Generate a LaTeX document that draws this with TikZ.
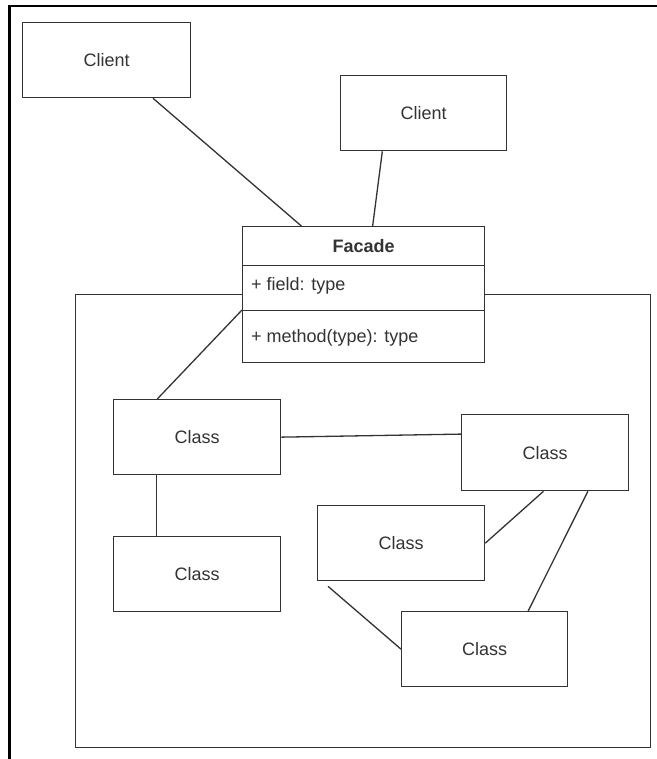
\documentclass[tikz,border=0pt]{standalone}
\usepackage{fontspec}
\setmainfont{Liberation Sans}
\usetikzlibrary{calc}
\definecolor{ink}{HTML}{333333}
\begin{document}
\begin{tikzpicture}[x=1pt,y=-1pt,
  every node/.style={font=\fontsize{18}{22}\selectfont, text=ink},
  umlbox/.style={draw=ink, line width=1.3pt, fill=white, inner sep=0pt, anchor=north west},
  link/.style={draw=ink, line width=1.3pt},
  frame/.style={draw=black, line width=2.6pt}]
\useasboundingbox (0,0) rectangle (656,759);

% window frame (top and left edges)
\draw[frame] (9.5,760) -- (9.5,6.2) -- (657,6.2);

% subsystem boundary
\node[umlbox, minimum width=575pt, minimum height=453pt] (pkg) at (75,294) {};

% clients
\node[umlbox, minimum width=168pt, minimum height=75pt] (cl1) at (22,22) {Client};
\node[umlbox, minimum width=166pt, minimum height=75pt] (cl2) at (340,75) {Client};

% facade class
\node[umlbox, minimum width=242pt, minimum height=39pt] (fhead) at (242,226) {\bfseries Facade};
\node[umlbox, minimum width=242pt, minimum height=45pt] (ffield) at (242,265) {};
\node[umlbox, minimum width=242pt, minimum height=52pt] (fmeth) at (242,310) {};
\node[anchor=west, inner sep=0pt] (ftxt) at ($(ffield.west)+(9,-2)$) {+ field: type};
\node[anchor=west, inner sep=0pt] (mtxt) at ($(fmeth.west)+(9,1)$) {+ method(type): type};

% subsystem classes
\node[umlbox, minimum width=167pt, minimum height=75pt] (k1) at (113,399) {Class};
\node[umlbox, minimum width=167pt, minimum height=76pt] (k2) at (461,414) {Class};
\node[umlbox, minimum width=167pt, minimum height=75pt] (k3) at (317,505) {Class};
\node[umlbox, minimum width=167pt, minimum height=75pt] (k4) at (113,536) {Class};
\node[umlbox, minimum width=166pt, minimum height=75pt] (k5) at (401,611) {Class};

\coordinate (k3tail) at ($(k3.south west)+(11,5)$);

% associations
\draw[link] ($(cl1.south west)!0.774!(cl1.south east)$) -- ($(fhead.north west)!0.244!(fhead.north east)$);
\draw[link] ($(cl2.south west)!0.253!(cl2.south east)$) -- ($(fhead.north west)!0.537!(fhead.north east)$);
\draw[link] (fmeth.north west) -- ($(k1.north west)!0.263!(k1.north east)$);
\draw[link] (k1.east) -- ($(k2.north west)!0.26!(k2.south west)$);
\draw[link] ($(k1.south west)!0.257!(k1.south east)$) -- ($(k4.north west)!0.257!(k4.north east)$);
\draw[link] ($(k2.south west)!0.49!(k2.south east)$) -- (k3.east);
\draw[link] ($(k2.south west)!0.754!(k2.south east)$) -- ($(k5.north west)!0.76!(k5.north east)$);
\draw[link] (k3tail) -- (k5.west);
\end{tikzpicture}
\end{document}
